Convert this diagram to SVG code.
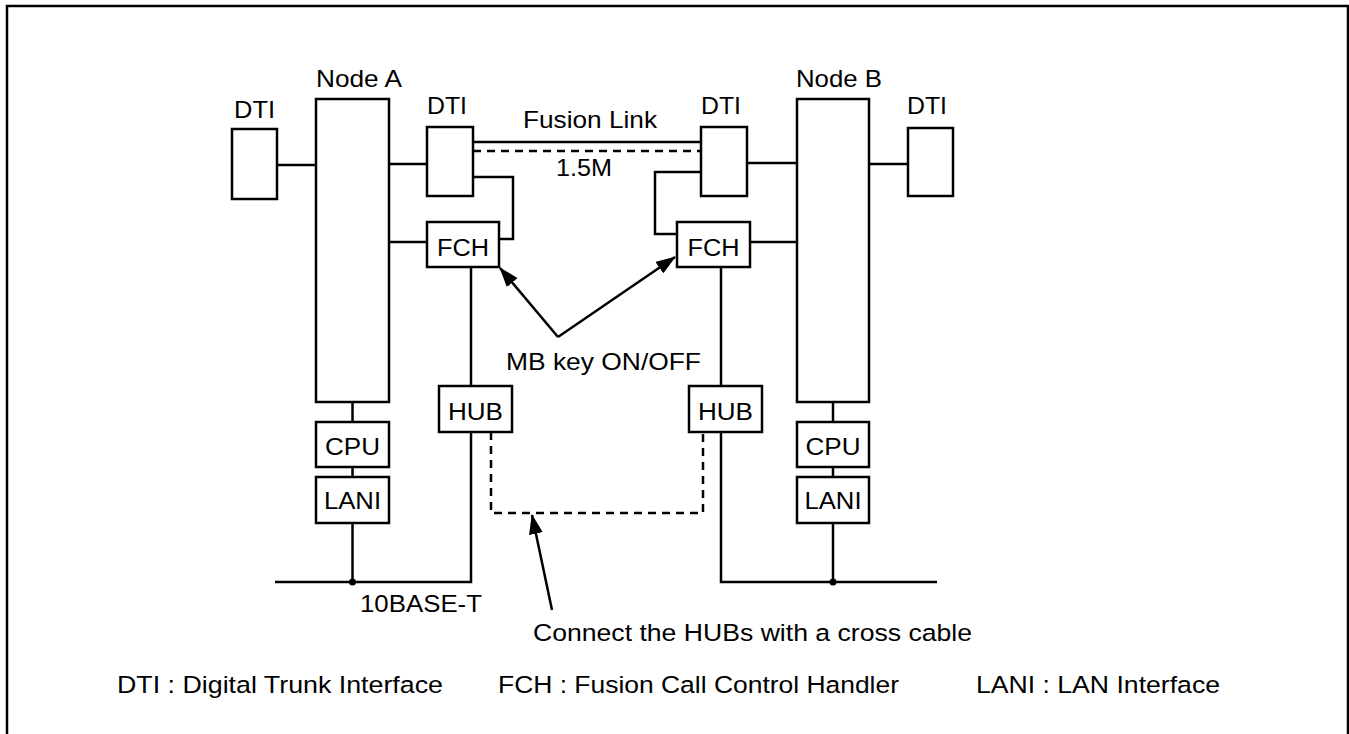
<svg xmlns="http://www.w3.org/2000/svg" width="1349" height="734" viewBox="0 0 1349 734">
<style>
text{font-family:"Liberation Sans",Arial,sans-serif;font-size:24.5px;fill:#000}
.box{fill:#fff;stroke:#000;stroke-width:2.5}
.ln{fill:none;stroke:#000;stroke-width:2.5}
.dash{fill:none;stroke:#000;stroke-width:2.5;stroke-dasharray:8 6}
.c{text-anchor:middle}
</style>
<defs>
<marker id="ah" markerUnits="userSpaceOnUse" markerWidth="20" markerHeight="14" refX="19" refY="7" orient="auto">
<path d="M0,0 L20,7 L0,14 Z" fill="#000"/>
</marker>
</defs>
<rect width="1349" height="734" fill="#fff"/>
<path d="M7,734 V6 H1348 V734" fill="none" stroke="#000" stroke-width="2.5"/>
<g id="connectors">
<line class="ln" x1="277" y1="165" x2="316" y2="165"/>
<line class="ln" x1="389" y1="164" x2="427" y2="164"/>
<line class="ln" x1="389" y1="242" x2="427" y2="242"/>
<line class="ln" x1="473" y1="142" x2="701" y2="142"/>
<line class="dash" x1="473" y1="151" x2="701" y2="151"/>
<polyline class="ln" points="473,177 513,177 513,239 499,239"/>
<polyline class="ln" points="701,172 655,172 655,234 677,234"/>
<line class="ln" x1="747" y1="163" x2="797" y2="163"/>
<line class="ln" x1="869" y1="164" x2="908" y2="164"/>
<line class="ln" x1="750" y1="242" x2="797" y2="242"/>
<line class="ln" x1="471" y1="267" x2="471" y2="386"/>
<line class="ln" x1="721" y1="267" x2="721" y2="386"/>
<line class="ln" x1="352.5" y1="402" x2="352.5" y2="422"/>
<line class="ln" x1="352.5" y1="467" x2="352.5" y2="477"/>
<line class="ln" x1="833" y1="402" x2="833" y2="422"/>
<line class="ln" x1="833" y1="467" x2="833" y2="477"/>
<polyline class="ln" points="275,582 471,582 471,432"/>
<line class="ln" x1="352.5" y1="523" x2="352.5" y2="582"/>
<circle cx="352.5" cy="582" r="3.5" fill="#000"/>
<polyline class="ln" points="937,582 721,582 721,432"/>
<line class="ln" x1="833" y1="523" x2="833" y2="582"/>
<circle cx="833" cy="582" r="3.5" fill="#000"/>
<polyline class="dash" points="491,432 491,513 703,513 703,432"/>
<line class="ln" x1="558" y1="337" x2="500" y2="268" marker-end="url(#ah)"/>
<line class="ln" x1="558" y1="337" x2="675" y2="257" marker-end="url(#ah)"/>
<line class="ln" x1="552" y1="610" x2="532" y2="515" marker-end="url(#ah)"/>
</g>
<g id="dti-a-left"><rect class="box" x="232" y="129" width="45" height="70"/><text x="254.5" y="118" class="c" textLength="41" lengthAdjust="spacingAndGlyphs">DTI</text></g>
<g id="node-a"><rect class="box" x="316" y="99" width="73" height="303"/><text x="316" y="87" textLength="86" lengthAdjust="spacingAndGlyphs">Node A</text></g>
<g id="dti-a-right"><rect class="box" x="427" y="127" width="46" height="69"/><text x="427" y="114" textLength="40" lengthAdjust="spacingAndGlyphs">DTI</text></g>
<g id="fch-a"><rect class="box" x="427" y="222" width="72" height="45"/><text x="463" y="256" class="c" textLength="52" lengthAdjust="spacingAndGlyphs">FCH</text></g>
<g id="hub-a"><rect class="box" x="439" y="386" width="73" height="46"/><text x="475.5" y="420" class="c" textLength="55" lengthAdjust="spacingAndGlyphs">HUB</text></g>
<g id="cpu-a"><rect class="box" x="316" y="422" width="73" height="45"/><text x="352.5" y="455" class="c" textLength="55" lengthAdjust="spacingAndGlyphs">CPU</text></g>
<g id="lani-a"><rect class="box" x="316" y="477" width="73" height="46"/><text x="352.5" y="509" class="c" textLength="57" lengthAdjust="spacingAndGlyphs">LANI</text></g>
<g id="dti-b-left"><rect class="box" x="701" y="127" width="46" height="69"/><text x="701" y="114" textLength="40" lengthAdjust="spacingAndGlyphs">DTI</text></g>
<g id="node-b"><rect class="box" x="797" y="99" width="72" height="303"/><text x="796" y="87" textLength="86" lengthAdjust="spacingAndGlyphs">Node B</text></g>
<g id="dti-b-right"><rect class="box" x="908" y="128" width="45" height="68"/><text x="907" y="114" textLength="40" lengthAdjust="spacingAndGlyphs">DTI</text></g>
<g id="fch-b"><rect class="box" x="677" y="222" width="73" height="45"/><text x="713.5" y="256" class="c" textLength="52" lengthAdjust="spacingAndGlyphs">FCH</text></g>
<g id="hub-b"><rect class="box" x="689" y="386" width="73" height="46"/><text x="725.5" y="420" class="c" textLength="55" lengthAdjust="spacingAndGlyphs">HUB</text></g>
<g id="cpu-b"><rect class="box" x="797" y="422" width="72" height="45"/><text x="833" y="455" class="c" textLength="55" lengthAdjust="spacingAndGlyphs">CPU</text></g>
<g id="lani-b"><rect class="box" x="797" y="477" width="72" height="46"/><text x="833" y="509" class="c" textLength="57" lengthAdjust="spacingAndGlyphs">LANI</text></g>
<g id="labels">
<text x="523" y="128" textLength="134" lengthAdjust="spacingAndGlyphs">Fusion Link</text>
<text x="556" y="176" textLength="56" lengthAdjust="spacingAndGlyphs">1.5M</text>
<text x="506" y="370" textLength="195" lengthAdjust="spacingAndGlyphs">MB key ON/OFF</text>
<text x="360" y="612" textLength="122" lengthAdjust="spacingAndGlyphs">10BASE-T</text>
<text x="533" y="641" textLength="439" lengthAdjust="spacingAndGlyphs">Connect the HUBs with a cross cable</text>
<text x="117" y="693" textLength="326" lengthAdjust="spacingAndGlyphs">DTI : Digital Trunk Interface</text>
<text x="498" y="693" textLength="401" lengthAdjust="spacingAndGlyphs">FCH : Fusion Call Control Handler</text>
<text x="976" y="693" textLength="244" lengthAdjust="spacingAndGlyphs">LANI : LAN Interface</text>
</g>
</svg>
